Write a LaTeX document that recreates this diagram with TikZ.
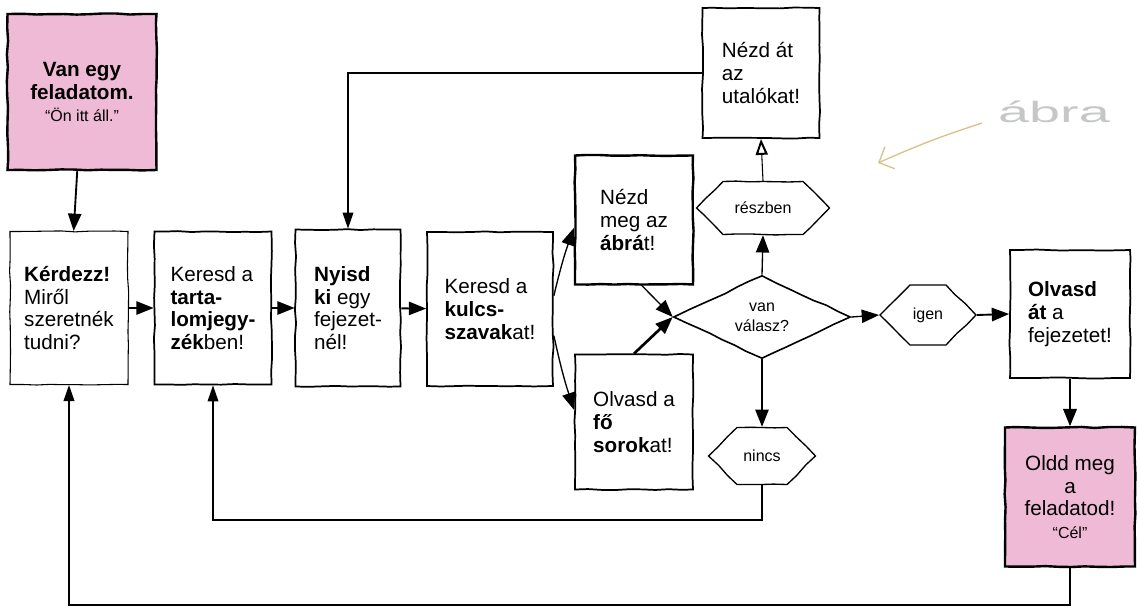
\documentclass[tikz,border=0pt]{standalone}
\usepackage{fontspec}
\setmainfont{Liberation Sans}
\usetikzlibrary{arrows.meta,shapes.geometric,shapes.symbols,decorations.pathmorphing}
\definecolor{rozsa}{RGB}{239,186,214}
\definecolor{arany}{RGB}{214,194,138}
\definecolor{ceruza}{RGB}{196,198,200}
\tikzset{
	vazlat/.style={decorate,decoration={random steps,segment length=10pt,amplitude=0.45pt}},
	doboz/.style={draw,vazlat,line width=1.3pt,fill=white,align=left,inner sep=0pt,font=\fontsize{15.5}{17}\selectfont},
	celdoboz/.style={doboz,fill=rozsa,align=center,line width=1.8pt},
	hatszog/.style={draw,vazlat,signal,signal to=west and east,line width=1pt,inner sep=0pt,font=\fontsize{12}{14}\selectfont},
	dontes/.style={draw,vazlat,diamond,line width=1.2pt,inner sep=0pt,align=center,font=\fontsize{12}{15}\selectfont},
	nyil/.style={line width=1.4pt,-{Triangle[length=13pt,width=10pt]}},
	visszanyil/.style={line width=1pt,-{Triangle[length=12pt,width=8pt]}}
}
\pgfmathsetseed{7}
\begin{document}
\begin{tikzpicture}[x=0.75pt,y=-0.75pt]
	\useasboundingbox (0,0) rectangle (1137,608);
	\node [celdoboz,minimum width=111.75pt,minimum height=117pt] (start) at (82,92)
	{\textbf{Van egy}\\\textbf{feladatom.}\\{\fontsize{12}{13}\selectfont “Ön itt áll.”}};
	\node [doboz,line width=0.8pt,minimum width=88.5pt,minimum height=114.75pt] (kerdez) at (69,308)
	{\textbf{Kérdezz!}\\Miről\\szeretnék\\tudni?};
	\node [doboz,minimum width=87.75pt,minimum height=114.75pt] (tartalom) at (213,308)
	{Keresd a\\\textbf{tarta-}\\\textbf{lomjegy-}\\\textbf{zék}ben!};
	\node [doboz,minimum width=78.75pt,minimum height=117.75pt] (nyisd) at (348,308)
	{\textbf{Nyisd}\\\textbf{ki} egy\\fejezet-\\nél!};
	\node [doboz,minimum width=94.5pt,minimum height=115.5pt] (kulcs) at (490,309)
	{Keresd a\\\textbf{kulcs-}\\\textbf{szavak}at!};
	\node [doboz,line width=1.8pt,minimum width=88.5pt,minimum height=96.75pt] (abra) at (634,220)
	{Nézd\\meg az\\\textbf{ábrá}t!};
	\node [doboz,minimum width=88.5pt,minimum height=101.25pt] (fosor) at (634,422)
	{Olvasd a\\\textbf{fő}\\\textbf{sorok}at!};
	\node [doboz,minimum width=87.75pt,minimum height=97.5pt] (utalok) at (761,73)
	{Nézd át\\az\\utalókat!};
	\node [doboz,minimum width=90pt,minimum height=96pt] (olvasdat) at (1070,314)
	{\textbf{Olvasd}\\\textbf{át} a\\fejezetet!};
	\node [celdoboz,minimum width=97.5pt,minimum height=104.25pt] (oldd) at (1070,497)
	{Oldd meg\\a\\feladatod!\\{\fontsize{12}{13}\selectfont “Cél”}};
	\node [dontes,minimum width=132.75pt,minimum height=57.75pt] (valasz) at (762,317) {van\\válasz?};
	\node [hatszog,minimum width=99.75pt,minimum height=39.75pt] (reszben) at (763,208) {részben};
	\node [hatszog,minimum width=80.25pt,minimum height=42.75pt] (nincs) at (762,456) {nincs};
	\node [hatszog,minimum width=72pt,minimum height=45pt] (igen) at (928,315) {igen};
	\node [text=ceruza,xscale=1.9,font=\fontsize{22}{22}\selectfont] (abrafelirat) at (1054,112) {ábra};
	\coordinate (sarok1) at (0,520);
	\coordinate (sarok2) at (0,605);
	\coordinate (jelkezd) at (982,123);
	\coordinate (jelveg) at (878,163);
	\draw [nyil] (start) -- (kerdez);
	\draw [nyil] (kerdez) -- (tartalom);
	\draw [nyil] (tartalom) -- (nyisd);
	\draw [nyil] (nyisd) -- (kulcs);
	\draw [nyil,line width=1pt] ([yshift=10pt]kulcs.east) to [bend left=3] ([yshift=-6pt]abra.west);
	\draw [nyil,line width=1pt] ([yshift=-20pt]kulcs.east) to [bend right=3] ([yshift=9pt]fosor.west);
	\draw [nyil,line width=1pt] ([xshift=6pt]abra.south) -- (valasz.west);
	\draw [nyil,line width=2pt] (fosor.north) -- (valasz.west);
	\draw [nyil,line width=1pt] (valasz.north) -- (reszben.south);
	\draw [line width=0.8pt,-{Triangle[open,length=12pt,width=9pt,line width=1.5pt]}] (reszben.north) -- (utalok.south);
	\draw [nyil] (valasz.south) -- (nincs.north);
	\draw [nyil,line width=1pt] (valasz.east) -- (igen.west);
	\draw [nyil] (igen.east) -- (olvasdat.west);
	\draw [nyil,line width=1.8pt] (olvasdat) -- (oldd);
	\draw [visszanyil] (utalok.west) -| (nyisd.north);
	\draw [visszanyil] (nincs.south) -- (nincs.south |- sarok1) -| (tartalom.south);
	\draw [visszanyil,line width=1.3pt] (oldd.south) -- (oldd.south |- sarok2) -| (kerdez.south);
	\draw [arany,line width=1pt,-{Straight Barb[length=9pt,width=18pt]}] (jelkezd) to [bend right=3] (jelveg);
\end{tikzpicture}
\end{document}
